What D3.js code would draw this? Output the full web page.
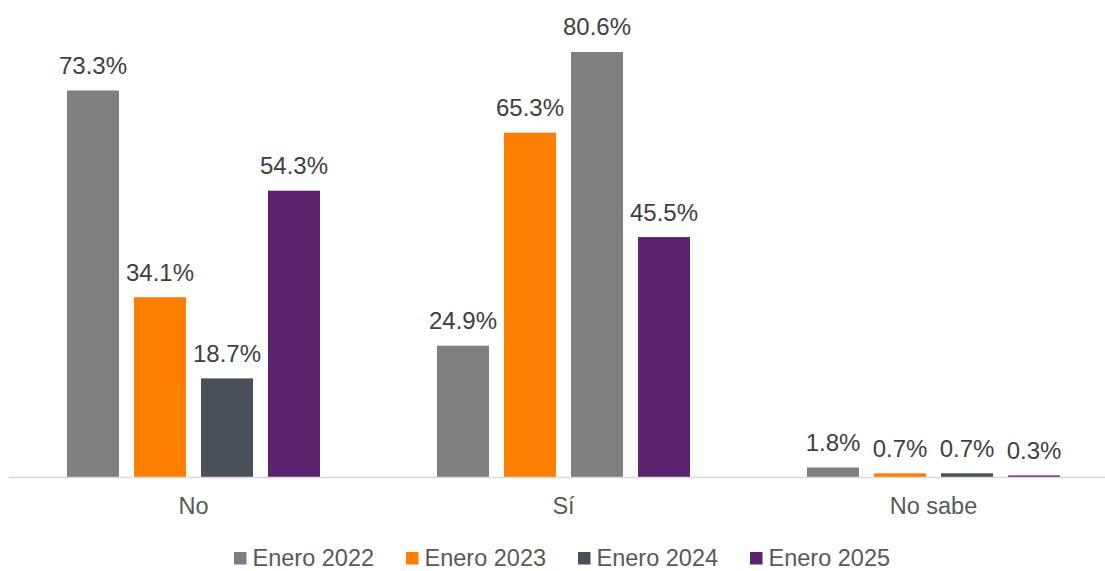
<!DOCTYPE html>
<meta charset="utf-8">
<style>
body { margin: 0; background: #fff; }
text { font-family: Arial, "Liberation Sans", sans-serif; }
.val { font-size: 24px; fill: #404040; text-anchor: middle; }
.cat { font-size: 23.5px; fill: #595959; text-anchor: middle; }
.leg { font-size: 23.5px; fill: #595959; }
</style>
<svg width="1105" height="571"></svg>
<script src="https://d3js.org/d3.v7.min.js"></script>
<script>

var categories = ["No", "Sí", "No sabe"];
var seriesNames = ["Enero 2022", "Enero 2023", "Enero 2024", "Enero 2025"];
var enero2022 = [73.3, 24.9, 1.8];
var enero2023 = [34.1, 65.3, 0.7];
var enero2024 = [18.7, 80.6, 0.7];
var enero2025 = [54.3, 45.5, 0.3];
var colors = ["#7f7f7f", "#ff8000", "#495057", "#5e2370"];

var series = [enero2022, enero2023, enero2024, enero2025];

var svg = d3.select("svg"),
    baseY = 477;

var x0 = d3.scaleBand()
    .domain(categories)
    .range([8.5, 1118.5]);

var x1 = d3.scaleBand()
    .domain(d3.range(4))
    .range([0, x0.bandwidth()])
    .paddingInner(0.224)
    .paddingOuter(0.873);

var y = d3.scaleLinear()
    .domain([0, 90])
    .range([baseY, baseY - 90 * 5.273]);

var fmt = function(v) { return v.toFixed(1) + "%"; };

// in the "Sí" group the original draws the Enero 2024 bar gray
function barColor(i, j) {
  if (i === 1 && j === 2) return colors[0];
  return colors[j];
}

var rows = [];
categories.forEach(function(c, i) {
  series.forEach(function(s, j) {
    rows.push({cat: c, idx: j, value: s[i], color: barColor(i, j)});
  });
});

var g = svg.append("g");

g.selectAll("rect")
  .data(rows)
  .enter().append("rect")
    .attr("x", function(d) { return x0(d.cat) + x1(d.idx); })
    .attr("width", x1.bandwidth())
    .attr("y", function(d) { return y(d.value); })
    .attr("height", function(d) { return baseY - y(d.value); })
    .attr("fill", function(d) { return d.color; });

g.selectAll(".val")
  .data(rows)
  .enter().append("text")
    .attr("class", "val")
    .attr("x", function(d) { return x0(d.cat) + x1(d.idx) + x1.bandwidth() / 2; })
    .attr("y", function(d) { return y(d.value) - 16.5; })
    .text(function(d) { return fmt(d.value); });

svg.append("line")
    .attr("x1", 9).attr("x2", 1105)
    .attr("y1", baseY + 0.5).attr("y2", baseY + 0.5)
    .attr("stroke", "#d9d9d9")
    .attr("stroke-width", 1.5);

svg.selectAll(".cat")
  .data(categories)
  .enter().append("text")
    .attr("class", "cat")
    .attr("x", function(d) { return x0(d) + x0.bandwidth() / 2; })
    .attr("y", 514)
    .text(function(d) { return d; });

var legend = svg.selectAll(".legitem")
  .data(seriesNames)
  .enter().append("g")
    .attr("transform", function(d, i) { return "translate(" + (234 + i * 172) + ",552)"; });

legend.append("rect")
    .attr("width", 12.5).attr("height", 12.5)
    .attr("fill", function(d, i) { return colors[i]; });

legend.append("text")
    .attr("class", "leg")
    .attr("x", 18.5)
    .attr("y", 13.5)
    .text(function(d) { return d; });

</script>
